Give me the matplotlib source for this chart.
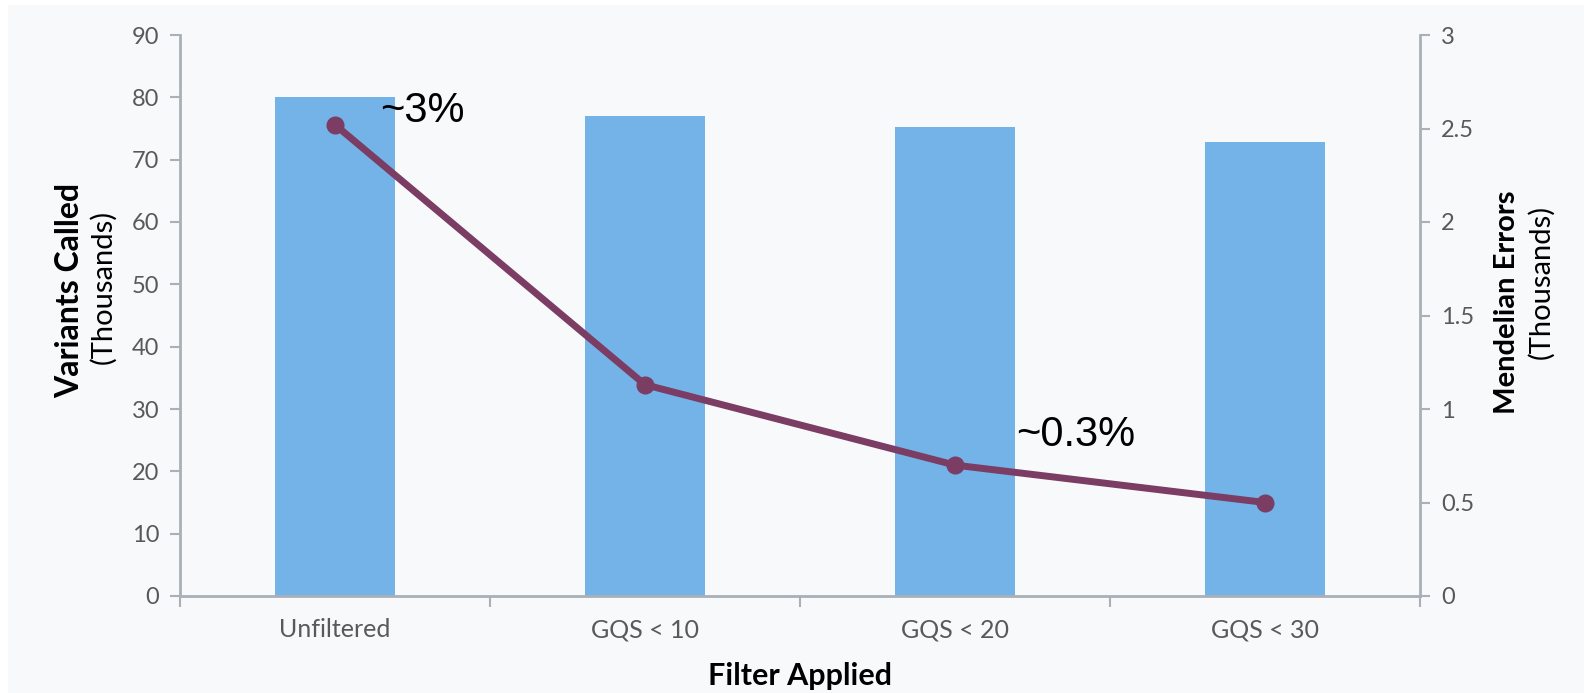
import matplotlib.pyplot as plt
from matplotlib.patches import Rectangle
from matplotlib.ticker import FuncFormatter, FixedLocator

filters = ["Unfiltered", "GQS < 10", "GQS < 20", "GQS < 30"]
variants_called = [80.0, 77.0, 75.2, 72.9]      # thousands
mendelian_errors = [2.52, 1.13, 0.70, 0.50]     # thousands
error_rates = ["~3%", None, "~0.3%", None]

bar_color = "#74b3e7"
line_color = "#7b3d63"
axis_color = "#a9b0b8"
tick_color = "#595959"
bg_color = "#f8f9fa"

plt.rcParams['font.family'] = ['Lato', 'DejaVu Sans']

W, H = 1584, 693
fig = plt.figure(figsize=(W / 100, H / 100), dpi=100, facecolor="white")
# light slide background with a thin white margin on top/left
fig.patches.append(Rectangle((8 / W, 0), 1, 1 - 5 / H, transform=fig.transFigure,
                             facecolor=bg_color, edgecolor="none", zorder=-10))

ax = fig.add_axes([180 / W, 1 - 596 / H, 1240 / W, 561 / H])
ax.set_facecolor("none")

x = list(range(len(filters)))
ax.bar(x, variants_called, width=0.39, color=bar_color, zorder=2)
ax.set_xlim(-0.5, len(filters) - 0.5)
ax.set_ylim(0, 90)
ax.set_yticks(range(0, 91, 10))

ax.set_xticks(x)
ax.set_xticklabels(filters)
ax.xaxis.set_minor_locator(FixedLocator([i - 0.5 for i in range(len(filters) + 1)]))
ax.tick_params(axis="x", which="major", length=0, pad=16, labelsize=18, labelcolor=tick_color)
ax.tick_params(axis="x", which="minor", length=8, width=1.5, color=axis_color)
ax.tick_params(axis="y", length=7, width=1.5, color=axis_color, labelsize=17,
               labelcolor=tick_color, pad=8)

for side in ("top", "right"):
    ax.spines[side].set_visible(False)
for side in ("left", "bottom"):
    ax.spines[side].set_color(axis_color)
    ax.spines[side].set_linewidth(2)

ax.set_xlabel("Filter Applied", fontsize=22, fontweight="bold", labelpad=15)

# two-line axis titles: bold name, lighter units underneath
ax.text(-0.0887, 0.544, "Variants Called", transform=ax.transAxes, rotation=90,
        ha="center", va="center", fontsize=23, fontweight="bold")
ax.text(-0.0621, 0.551, "(Thousands)", transform=ax.transAxes, rotation=90,
        ha="center", va="center", fontsize=21)

# Mendelian errors on the secondary axis
ax2 = ax.twinx()
ax2.set_ylim(0, 3)
ax2.set_yticks([i * 0.5 for i in range(7)])
ax2.yaxis.set_major_formatter(FuncFormatter(lambda v, _: f"{v:g}"))
ax2.tick_params(axis="y", length=7, width=1.5, color=axis_color, labelsize=17,
                labelcolor=tick_color, pad=8)
for side in ("top", "left", "bottom"):
    ax2.spines[side].set_visible(False)
ax2.spines["right"].set_color(axis_color)
ax2.spines["right"].set_linewidth(2)

ax2.text(1.0702, 0.524, "Mendelian Errors", transform=ax2.transAxes, rotation=90,
         ha="center", va="center", fontsize=21, fontweight="bold")
ax2.text(1.0976, 0.560, "(Thousands)", transform=ax2.transAxes, rotation=90,
         ha="center", va="center", fontsize=21)

ax2.plot(x, mendelian_errors, color=line_color, linewidth=5, marker="o",
         markersize=12, solid_capstyle="round", zorder=3)

offsets = {0: (45, 3), 2: (61, 19)}
for i, rate in enumerate(error_rates):
    if rate is None:
        continue
    ax2.annotate(rate, (x[i], mendelian_errors[i]), xytext=offsets[i],
                 textcoords="offset pixels", fontsize=30, color="black",
                 ha="left", va="baseline",
                 family=["Liberation Sans", "DejaVu Sans"])

fig.savefig("out.png", dpi=100, facecolor=fig.get_facecolor())
